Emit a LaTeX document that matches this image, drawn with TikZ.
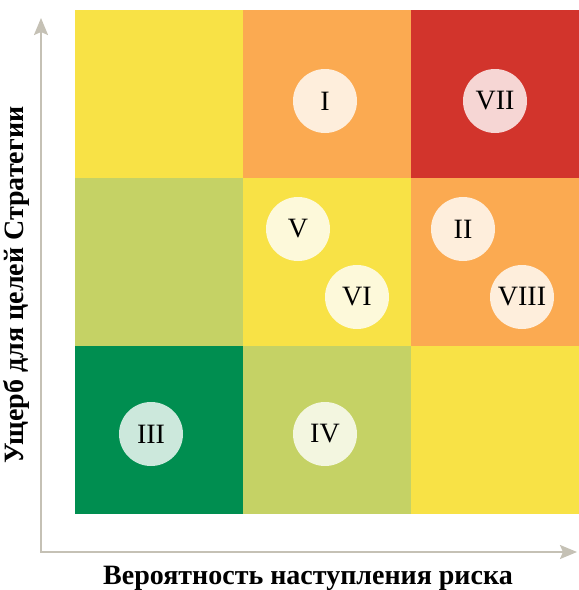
\documentclass[tikz,border=0pt]{standalone}
\usepackage{fontspec}
\setmainfont{Liberation Serif}
\usepackage{tikz}
\usetikzlibrary{arrows.meta,positioning}
\definecolor{rYellow}{HTML}{F8E246}
\definecolor{rOrange}{HTML}{FBAA51}
\definecolor{rRed}{HTML}{D2342C}
\definecolor{rLight}{HTML}{C5D265}
\definecolor{rDark}{HTML}{008E50}
\definecolor{axisgray}{HTML}{C5C1B5}
\tikzset{%
	cell/.style     = {rectangle, minimum width=168pt, minimum height=168pt, inner sep=0pt, outer sep=0pt}, % matrix cell
	risk/.style     = {circle, fill=white, fill opacity=0.8, text opacity=1, minimum size=64pt, inner sep=0pt, font=\fontsize{28}{28}\selectfont}, % risk marker
	axis/.style     = {draw=axisgray, line width=2pt, {Stealth[length=17pt,width=14pt,inset=3pt]}-{Stealth[length=17pt,width=14pt,inset=3pt]}},
	axislabel/.style= {font=\fontsize{28}{28}\selectfont\bfseries},
}
\begin{document}
\begin{tikzpicture}[x=1pt,y=-1pt]
	\useasboundingbox (0,0) rectangle (579,590);
	% cells of the matrix
	\node[cell,fill=rYellow] (c11) at (159,94) {};
	\node[cell,fill=rOrange,right=0pt of c11] (c12) {};
	\node[cell,fill=rRed,right=0pt of c12] (c13) {};
	\node[cell,fill=rLight,below=0pt of c11] (c21) {};
	\node[cell,fill=rYellow,right=0pt of c21] (c22) {};
	\node[cell,fill=rOrange,right=0pt of c22] (c23) {};
	\node[cell,fill=rDark,below=0pt of c21] (c31) {};
	\node[cell,fill=rLight,right=0pt of c31] (c32) {};
	\node[cell,fill=rYellow,right=0pt of c32] (c33) {};
	
	% risks
	\node[risk] (r1) at (325,101) {I};
	\node[risk] (r7) at (495,101) {VII};
	\node[risk] (r5) at (298,229) {V};
	\node[risk] (r2) at (463,229) {II};
	\node[risk] (r6) at (357,297) {VI};
	\node[risk] (r8) at (522,297) {VIII};
	\node[risk] (r3) at (151,434) {III};
	\node[risk] (r4) at (325,434) {IV};
	
	% axes
	\coordinate (ytop) at (41,18);
	\coordinate (xend) at (577,552);
	\draw[axis] (ytop) |- (xend);
	\node[axislabel] (xlab) at (308,578) {Вероятность наступления риска};
	\node[axislabel,rotate=90] (ylab) at (16,285) {Ущерб для целей Стратегии};
\end{tikzpicture}
\end{document}
